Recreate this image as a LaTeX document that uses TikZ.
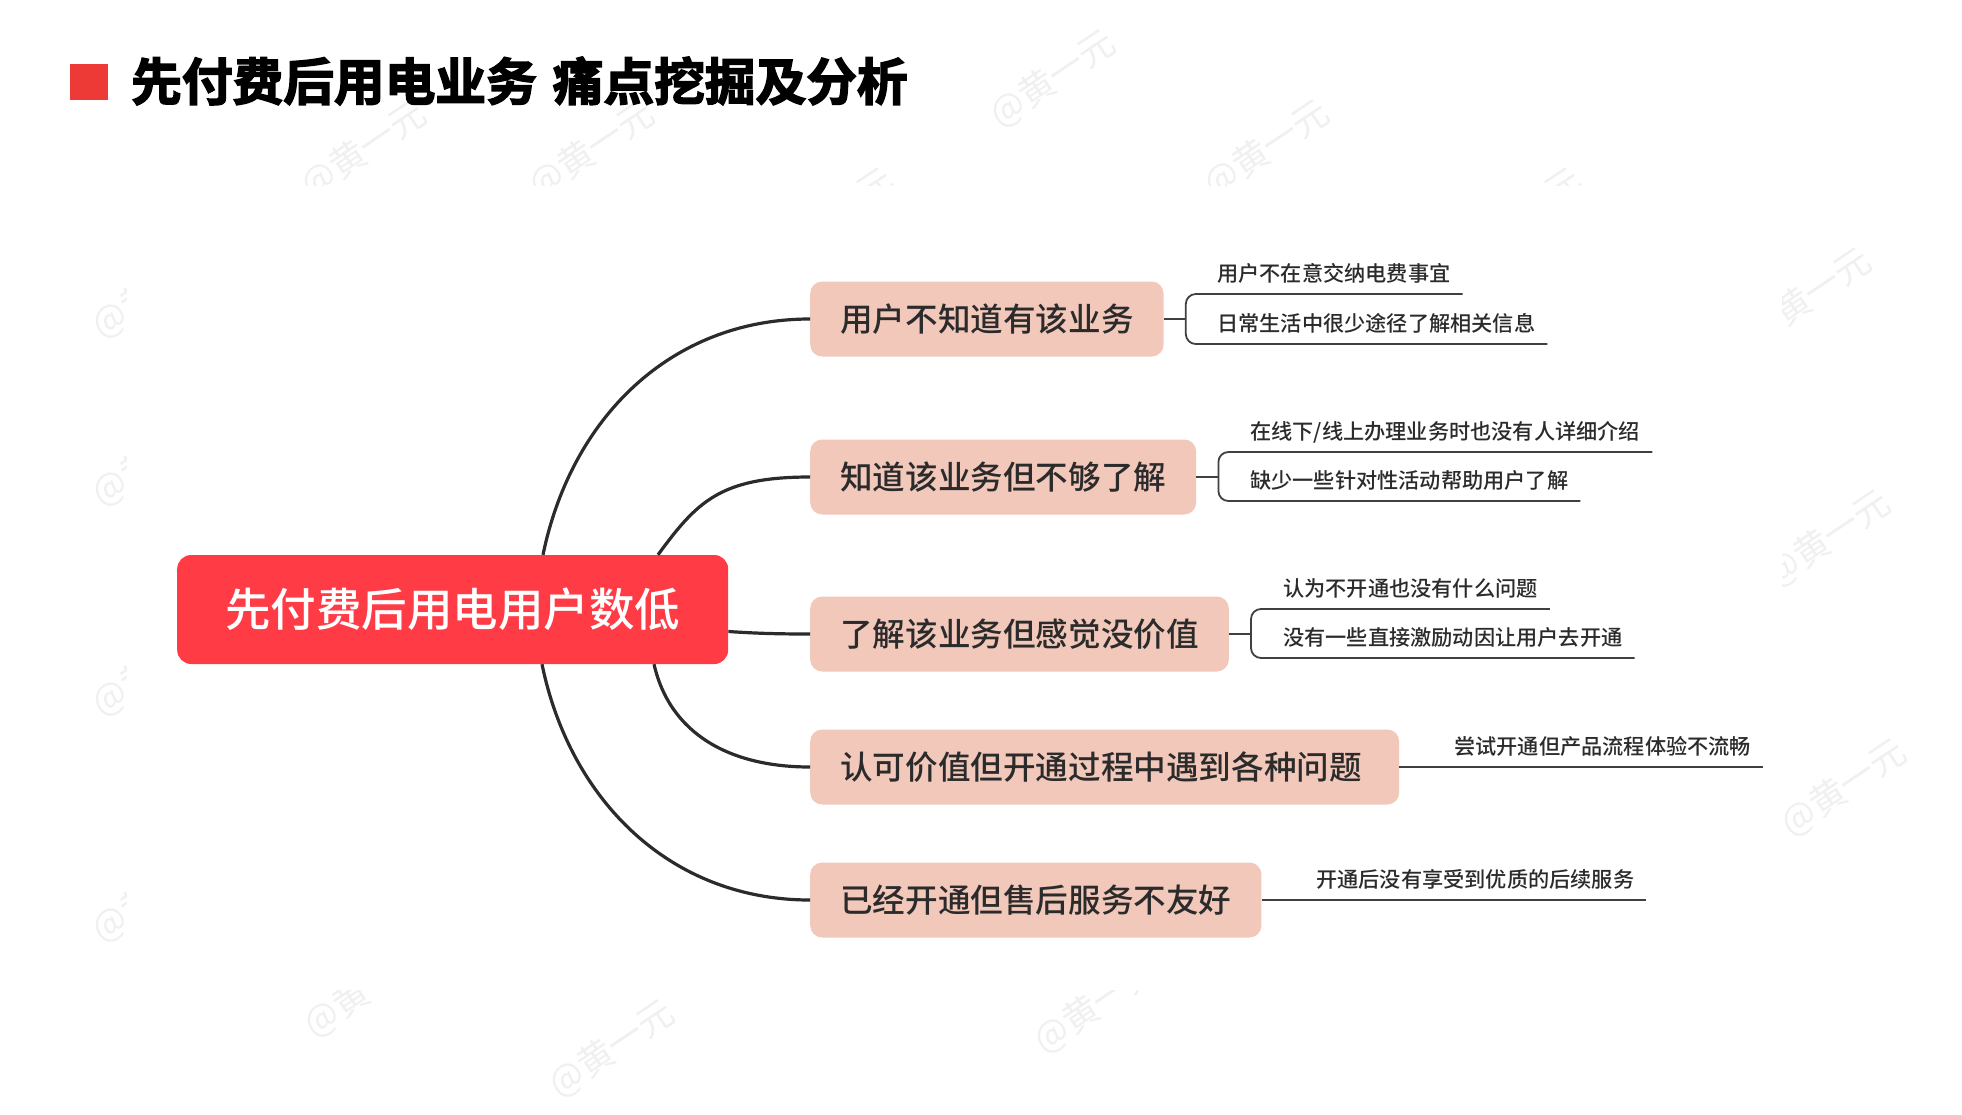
\documentclass[tikz,border=0pt]{standalone}
\usepackage{fontspec}
\setmainfont{Noto Sans CJK SC Medium}
\newfontfamily\titlefont[FakeBold=3]{Noto Sans CJK SC Bold}
\newfontfamily\markfont{Noto Sans CJK SC}
\usetikzlibrary{calc}
\definecolor{rootred}{HTML}{FF3B46}
\definecolor{tagred}{HTML}{EE3A36}
\definecolor{boxpink}{HTML}{F2C8BB}
\definecolor{inkgray}{HTML}{2B2B2B}
\definecolor{markgray}{HTML}{F0F0F0}
\tikzset{
  rootbox/.style={fill=rootred,text=white,rounded corners=14pt,anchor=west,inner xsep=48pt,minimum height=109pt,font=\fontsize{45.5}{50}\selectfont},
  branchbox/.style={fill=boxpink,text=inkgray,rounded corners=12pt,anchor=west,inner xsep=30pt,minimum height=75pt,font=\fontsize{32.6}{36}\selectfont},
  leaf/.style={anchor=south west,text=inkgray,inner xsep=12pt,inner ysep=9.8pt,text height=17pt,text depth=3pt,font=\fontsize{21.2}{24}\selectfont},
  curveline/.style={draw=inkgray,line width=3.2pt},
  leafline/.style={draw=inkgray!90,line width=1.8pt},
  wmark/.style={text=markgray,rotate=34,font=\markfont\fontsize{36}{40}\selectfont}
}
\begin{document}
\begin{tikzpicture}[x=1pt,y=1pt]
\useasboundingbox (0,0) rectangle (1962,-1114);
\foreach \mx/\my [count=\mi] in {1053/-79,364/-150,592/-150,1267/-149,832/-217,1520/-217,155/-290,155/-458,155/-668,155/-894,1809/-297,1828/-539,1844/-788,367/-989,612/-1049,1097/-1005}
  \node[wmark] (wm\mi) at (\mx,\my) {@黄一元};
\fill[white] (127,-186) rectangle (1782,-990);
\node[fill=tagred,minimum width=38pt,minimum height=36pt,inner sep=0pt] (tag) at (89,-82) {};
\node[anchor=west,inner sep=0pt,font=\titlefont\fontsize{50.7}{54}\selectfont] (title) at (131,-81) {先付费后用电业务\hspace{16pt}痛点挖掘及分析};

\node[rootbox] (root) at (177,-609.5) {先付费后用电用户数低};
\node[branchbox] (b1) at (810,-319) {用户不知道有该业务};
\node[branchbox] (b2) at (810,-477) {知道该业务但不够了解};
\node[branchbox] (b3) at (810,-634) {了解该业务但感觉没价值};
\node[branchbox,text width=529pt,align=left] (b4) at (810,-767) {认可价值但开通过程中遇到各种问题};
\node[branchbox] (b5) at (810,-900) {已经开通但售后服务不友好};

\node[leaf] (s11) at (1205,-294) {用户不在意交纳电费事宜};
\node[leaf] (s12) at (1205,-344) {日常生活中很少途径了解相关信息};
\node[leaf] (s21) at (1238,-452) {在线下/线上办理业务时也没有人详细介绍};
\node[leaf] (s22) at (1238,-501) {缺少一些针对性活动帮助用户了解};
\node[leaf] (s31) at (1271,-609) {认为不开通也没有什么问题};
\node[leaf] (s32) at (1271,-658) {没有一些直接激励动因让用户去开通};
\node[leaf] (s41) at (1442,-767) {尝试开通但产品流程体验不流畅};
\node[leaf] (s51) at (1304,-900) {开通后没有享受到优质的后续服务};

\coordinate (r1) at ($(root.north west)+(366,0)$);
\coordinate (r2) at ($(root.north west)+(481,0)$);
\coordinate (r3) at ($(root.east)+(0,-22)$);
\coordinate (r4) at ($(root.south west)+(477,0)$);
\coordinate (r5) at ($(root.south west)+(365,0)$);
\draw[curveline] (r1) .. controls +(28,136) and +(-140,0) .. (b1.west);
\draw[curveline] (r2) .. controls +(39,53) and +(-90,0) .. (b2.west);
\draw[curveline] (r3) .. controls +(30,-2) and +(-30,0) .. (b3.west);
\draw[curveline] (r4) .. controls +(16,-70) and +(-80,0) .. (b4.west);
\draw[curveline] (r5) .. controls +(28,-136) and +(-140,0) .. (b5.west);

\coordinate (j1) at ($(b1.east)+(22,0)$);
\coordinate (j2) at ($(b2.east)+(22,0)$);
\coordinate (j3) at ($(b3.east)+(22,0)$);
\draw[leafline] (b1.east) -- (j1);
\draw[leafline] (b2.east) -- (j2);
\draw[leafline] (b3.east) -- (j3);
\draw[leafline,rounded corners=10pt] (s11.south east) -| (j1) |- (s12.south east);
\draw[leafline,rounded corners=10pt] (s21.south east) -| (j2) |- (s22.south east);
\draw[leafline,rounded corners=10pt] (s31.south east) -| (j3) |- (s32.south east);
\draw[leafline] (b4.east) -- (s41.south east);
\draw[leafline] (b5.east) -- (s51.south east);
\end{tikzpicture}
\end{document}
